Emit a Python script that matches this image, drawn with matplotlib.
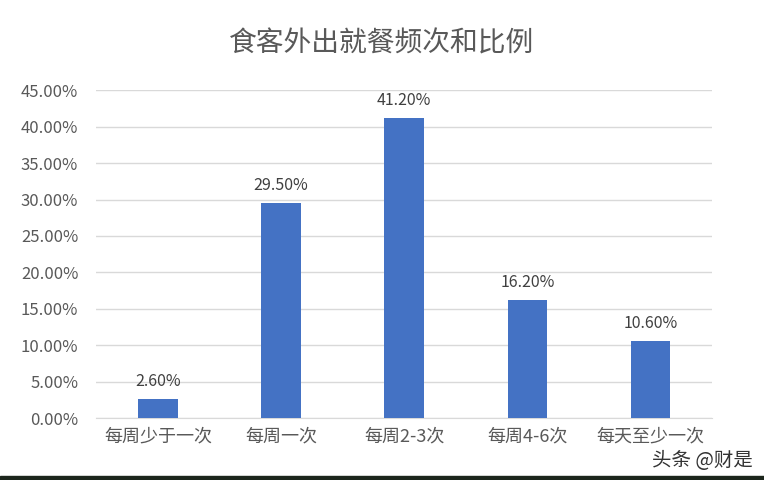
import matplotlib
matplotlib.use('Agg')
import matplotlib.pyplot as plt
from matplotlib.ticker import FuncFormatter
from matplotlib.patches import Rectangle

plt.rcParams['font.family'] = ['Noto Sans CJK SC', 'DejaVu Sans']

categories = ['每周少于一次', '每周一次', '每周2-3次', '每周4-6次', '每天至少一次']
values = [2.6, 29.5, 41.2, 16.2, 10.6]
yticks = [0, 5, 10, 15, 20, 25, 30, 35, 40, 45]

fig = plt.figure(figsize=(7.64, 4.8), dpi=100)
fig.patch.set_facecolor('white')
ax = fig.add_axes([0.126, 0.129, 0.806, 0.683])

x = range(len(categories))
ax.bar(x, values, width=0.32, color='#4472C4', zorder=3)
for i, v in zip(x, values):
    ax.text(i, v + 1.2, f'{v:.2f}%', ha='center', va='bottom',
            fontsize=11.5, color='#404040')

ax.set_xlim(-0.5, len(categories) - 0.5)
ax.set_ylim(0, 45)
ax.set_yticks(yticks)
ax.yaxis.set_major_formatter(FuncFormatter(lambda v, p: f'{v:.2f}%'))
ax.set_xticks(list(x))
ax.set_xticklabels(categories)
ax.grid(axis='y', color='#d9d9d9', linewidth=1, zorder=0)
for s in ['top', 'right', 'left']:
    ax.spines[s].set_visible(False)
ax.spines['bottom'].set_color('#d9d9d9')
ax.tick_params(axis='both', length=0, colors='#595959')
ax.tick_params(axis='x', pad=7, labelsize=13)
ax.tick_params(axis='y', pad=13, labelsize=12)

fig.text(0.5, 0.91, '食客外出就餐频次和比例', ha='center', va='center',
         fontsize=20, color='#595959')
fig.text(0.985, 0.04, '头条 @财是', ha='right', va='center',
         fontsize=14, color='#333333')

# dark strip along the bottom edge of the screenshot
fig.patches.append(Rectangle((0, 0), 1, 0.008, transform=fig.transFigure,
                             color='#1c261c', zorder=5))

fig.savefig('out.png', dpi=100)
